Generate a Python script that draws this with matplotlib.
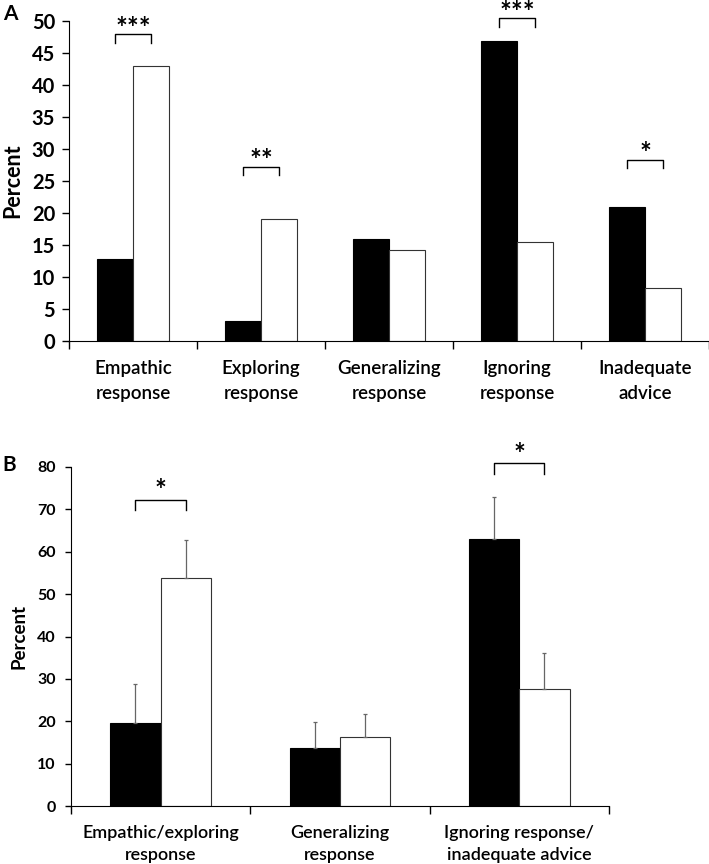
import matplotlib
matplotlib.use("Agg")
import matplotlib.pyplot as plt
import numpy as np

plt.rcParams['font.family'] = ['Lato', 'DejaVu Sans']

# panel A
cats_a = ["Empathic\nresponse", "Exploring\nresponse", "Generalizing\nresponse",
          "Ignoring\nresponse", "Inadequate\nadvice"]
black_a = [12.8, 3.1, 16.0, 46.8, 20.9]
white_a = [42.9, 19.0, 14.2, 15.5, 8.3]
# (category index, bracket height, stars)
sig_a = [(0, 47.9, "***"), (1, 27.2, "**"), (3, 50.4, "***"), (4, 28.3, "*")]

# panel B
cats_b = ["Empathic/exploring\nresponse", "Generalizing\nresponse",
          "Ignoring response/\ninadequate advice"]
black_b = [19.6, 13.8, 63.0]
white_b = [53.8, 16.2, 27.5]
black_b_err = [9.2, 6.0, 10.0]
white_b_err = [9.0, 5.4, 8.5]
sig_b = [(0, 72.3, "*"), (2, 80.9, "*")]

W = 0.28


def draw_bracket(ax, i, h, stars, drop, fs, gap):
    x0, x1 = i - W / 2, i + W / 2
    ax.plot([x0, x0, x1, x1], [h - drop, h, h, h - drop], color='black',
            lw=1.0, clip_on=False)
    ax.text(i, h + gap, stars, ha='center', va='center', fontsize=fs,
            fontweight='bold', clip_on=False)


def style_axis(ax, n):
    ax.spines['top'].set_visible(False)
    ax.spines['right'].set_visible(False)
    ax.set_xlim(-0.5, n - 0.5)
    ax.set_xticks(range(n))
    ax.set_xticks(np.arange(n + 1) - 0.5, minor=True)
    ax.tick_params(axis='x', which='major', length=0, pad=14)
    ax.tick_params(axis='x', which='minor', length=6, width=1, direction='out')


fig = plt.figure(figsize=(7.09, 8.64), dpi=100)

axA = fig.add_axes([0.0973, 0.6053, 0.9027, 0.3704])
x = np.arange(len(cats_a))
axA.bar(x - W / 2, black_a, W, color='black', edgecolor='black', lw=0.8)
axA.bar(x + W / 2, white_a, W, color='white', edgecolor='#333333', lw=0.8)
axA.set_ylim(0, 50)
axA.set_yticks(range(0, 51, 5))
style_axis(axA, len(cats_a))
axA.tick_params(axis='y', length=5, width=1, direction='out', pad=5)
axA.set_xticklabels(cats_a, fontsize=13.5, fontweight='semibold', linespacing=1.55)
for lab in axA.get_yticklabels():
    lab.set_fontsize(14.5)
    lab.set_fontweight('bold')
axA.set_ylabel("Percent", fontsize=15.5, fontweight='bold')
axA.yaxis.set_label_coords(-0.071, 0.5)
for i, h, s in sig_a:
    draw_bracket(axA, i, h, s, 1.3, 20, 0.9)
fig.text(0.004, 0.984, "A", fontsize=15, fontweight='bold', va='center')

axB = fig.add_axes([0.1, 0.0671, 0.759, 0.3924])
x = np.arange(len(cats_b))
axB.bar(x - W / 2, black_b, W, color='black', edgecolor='black', lw=0.8)
axB.bar(x + W / 2, white_b, W, color='white', edgecolor='#333333', lw=0.8)
axB.errorbar(x - W / 2, black_b, yerr=[np.zeros(3), black_b_err], fmt='none',
             ecolor='#666666', elinewidth=0.9, capsize=1.5, capthick=0.9)
axB.errorbar(x + W / 2, white_b, yerr=[np.zeros(3), white_b_err], fmt='none',
             ecolor='#666666', elinewidth=0.9, capsize=1.5, capthick=0.9)
axB.set_ylim(0, 80)
axB.set_yticks(range(0, 81, 10))
style_axis(axB, len(cats_b))
axB.tick_params(axis='y', length=4, width=1, direction='out', pad=7)
axB.set_xticklabels(cats_b, fontsize=13, fontweight='semibold', linespacing=1.45)
for lab in axB.get_yticklabels():
    lab.set_fontsize(11.5)
    lab.set_fontweight('bold')
axB.set_ylabel("Percent", fontsize=13.5, fontweight='bold')
axB.yaxis.set_label_coords(-0.08, 0.5)
for i, h, s in sig_b:
    draw_bracket(axB, i, h, s, 2.5, 20, 2.0)
fig.text(0.004, 0.462, "B", fontsize=15, fontweight='bold', va='center')

fig.savefig("out.png", dpi=100)
